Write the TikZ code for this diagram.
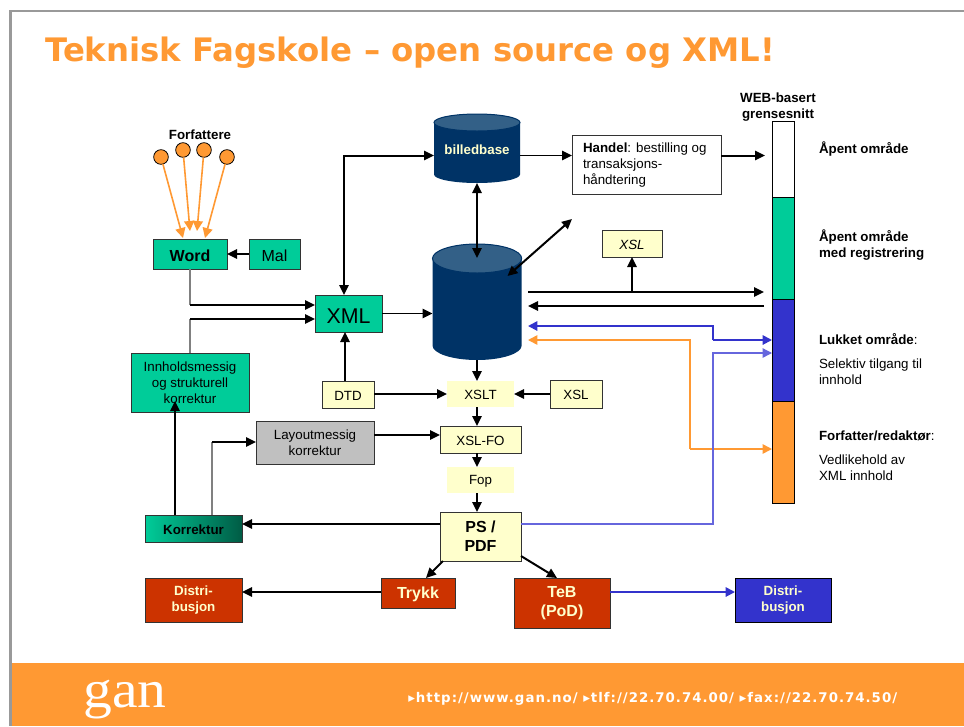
\documentclass[tikz,border=0pt]{standalone}
\usepackage{fontspec}
\setmainfont{Liberation Sans}
\newfontfamily\verd{DejaVu Sans}
\newfontfamily\logofont{Liberation Serif}
\usetikzlibrary{arrows.meta,calc}
\definecolor{orng}{HTML}{FF9933}
\definecolor{grn}{HTML}{00CC99}
\definecolor{navy}{HTML}{003366}
\definecolor{navytop}{HTML}{336087}
\definecolor{yel}{HTML}{FFFFCC}
\definecolor{rd}{HTML}{CC3300}
\definecolor{blu}{HTML}{3333CC}
\definecolor{lblu}{HTML}{6666DD}
\definecolor{framec}{HTML}{999999}
\definecolor{gry}{HTML}{C0C0C0}
\definecolor{edge}{HTML}{333333}
\newcommand{\bx}[7]{\node[#6,minimum width={(#4-#2)*0.75pt},minimum height={(#5-#3)*0.75pt}] (#1) at ({(#2+#4)/2},{(#3+#5)/2}) {#7};}
\newcommand{\cyl}[6]{%
 \fill[navy] (#1,#3) -- (#1,#4) arc[start angle=180,end angle=0,x radius={(#2-#1)/2},y radius=#5] -- (#2,#3) arc[start angle=0,end angle=-180,x radius={(#2-#1)/2},y radius=#5] -- cycle;
 \draw[#6] ({(#1+#2)/2},#3) ellipse[x radius={(#2-#1)/2},y radius=#5];}
\tikzset{
 x=0.75pt,y=-0.75pt,
 basebox/.style={inner sep=0pt,outer sep=0pt,align=center,text=black,font=\fontsize{10}{12}\selectfont,line width=0.75pt,execute at begin node={\rule{0pt}{0.9em}}},
 emptybox/.style={basebox,execute at begin node={}},
 ybox/.style={basebox,fill=yel,draw=edge},
 yplain/.style={basebox,fill=yel},
 gbox/.style={basebox,fill=grn,draw=edge},
 rbox/.style={basebox,fill=rd,draw=edge,text=yel,font=\fontsize{10}{12}\selectfont\bfseries},
 label/.style={inner sep=0pt,outer sep=0pt,anchor=west,align=left,text=black,font=\fontsize{10}{12}\selectfont},
 blabel/.style={label,font=\fontsize{10}{12}\selectfont\bfseries},
 tipb/.style={-{Triangle[length=7.5pt,width=7pt]}},
 tipd/.style={{Triangle[length=7.5pt,width=7pt]}-{Triangle[length=7.5pt,width=7pt]}},
 conn/.style={tipb,line width=1.5pt,draw=black},
 dconn/.style={tipd,line width=1.5pt,draw=black},
 thin conn/.style={tipb,line width=1.25pt,draw=black},
 grayline/.style={line width=1pt,draw=gray},
 orangearrow/.style={-{Triangle[length=7.5pt,width=7.5pt]},line width=1.2pt,draw=orng},
 colorarrow/.style={-{Triangle[length=7pt,width=7pt]}},
 dot/.style={circle,fill=orng,draw=black,line width=0.6pt,minimum size=11pt,inner sep=0pt,outer sep=0pt},
}
\begin{document}
\begin{tikzpicture}
\useasboundingbox (0,0) rectangle (964,726);
\fill[white] (0,0) rectangle (964,726);
% frame and footer
\fill[orng] (12,663) rectangle (964,726);
\fill[framec] (9.3,10) rectangle (12,726);
\fill[framec] (9.3,10) rectangle (964,12);
\node[inner sep=0pt,anchor=base west,text=orng] (title) at (45,61) {\verd\fontsize{24.25}{28}\selectfont\bfseries Teknisk Fagskole – open source og XML!};
\node[inner sep=0pt,anchor=base west,text=white,xscale=1.08] (logo) at (83,707) {\logofont\fontsize{40}{40}\selectfont gan};
\node[inner sep=0pt,anchor=base west,text=white] (foot) at (408,702) {\verd\fontsize{10}{12}\selectfont\bfseries\addfontfeature{LetterSpace=7.5}▸http://www.gan.no/ ▸tlf://22.70.74.00/ ▸fax://22.70.74.50/};
% authors
\node[inner sep=0pt,font=\fontsize{10}{12}\selectfont\bfseries] (forf) at (200,135) {Forfattere};
\node[dot] (a1) at (161,157) {};
\node[dot] (a2) at (183,150) {};
\node[dot] (a3) at (204,150) {};
\node[dot] (a4) at (227,157) {};
% boxes
\bx{word}{153}{239}{227}{269}{gbox,font=\fontsize{12}{14}\selectfont\bfseries}{Word}
\bx{mal}{249}{239}{300}{269}{gbox,font=\fontsize{12}{14}\selectfont}{Mal}
\bx{xml}{315}{295}{382}{332}{gbox,font=\fontsize{16}{19}\selectfont,execute at begin node={}}{XML}
\bx{innh}{131}{353}{249}{412}{gbox}{Innholdsmessig\\og strukturell\\korrektur}
\bx{dtd}{322}{381}{374}{408}{ybox}{DTD}
\bx{xslt}{447}{381}{514}{407}{yplain}{XSLT}
\bx{xslr}{550}{380}{602}{408}{ybox}{XSL}
\bx{xslfo}{440}{426}{521}{453}{ybox}{XSL-FO}
\bx{fop}{447}{467}{514}{493}{yplain}{Fop}
\bx{pspdf}{440}{512}{521}{561}{ybox,font=\fontsize{12}{14.5}\selectfont\bfseries}{PS /\\PDF}
\bx{layout}{256}{421}{374}{464}{basebox,fill=gry,draw=edge}{Layoutmessig\\korrektur}
\bx{korr}{145}{515}{242}{542}{basebox,draw=edge,left color=grn,middle color=grn,right color=grn!45!black,font=\fontsize{10}{12}\selectfont\bfseries}{Korrektur}
\bx{dist1}{145}{578}{242}{622}{rbox}{Distri-\\busjon}
\bx{trykk}{381}{578}{455}{608}{rbox,font=\fontsize{12}{14}\selectfont\bfseries}{Trykk}
\bx{teb}{514}{578}{610}{628}{rbox,font=\fontsize{12}{14.5}\selectfont\bfseries}{TeB\\(PoD)}
\bx{dist2}{735}{578}{831}{622}{basebox,fill=blu,draw=black,text=yel,font=\fontsize{10}{12}\selectfont\bfseries}{Distri-\\busjon}
\bx{handel}{572}{135}{721}{194}{emptybox,fill=white,draw=edge}{}
\bx{xsli}{602}{230}{662}{257}{ybox,font=\fontsize{10}{12}\selectfont\itshape}{XSL}
\node[label] (handeltxt) at (583,165) {\textbf{Handel}: bestilling og\\transaksjons-\\håndtering};
% cylinders
\cyl{434}{520}{122.5}{174.5}{8.5}{fill=navytop,draw=navy,line width=0.75pt}
\bx{bb}{434}{114}{520}{183}{basebox,text=yel,font=\fontsize{10}{12}\selectfont\bfseries}{billedbase}
\cyl{432.5}{521.7}{258.5}{345.5}{14.5}{fill=navytop,draw=navy,line width=0.75pt}
\bx{db}{432.5}{244}{521.7}{360}{emptybox}{}
% bar
\bx{bar1}{772}{121}{794}{197}{emptybox,fill=white,draw=black}{}
\bx{bar2}{772}{197}{794}{299}{emptybox,fill=grn,draw=black}{}
\bx{bar3}{772}{299}{794}{401}{emptybox,fill=blu,draw=black}{}
\bx{bar4}{772}{401}{794}{503}{emptybox,fill=orng,draw=black}{}
% right labels
\node[inner sep=0pt,align=center,font=\fontsize{10}{12}\selectfont\bfseries] (web) at (778,107) {WEB-basert\\grensesnitt};
\node[blabel] (l1) at (819,148.5) {Åpent område};
\node[blabel] (l2) at (819,245.5) {Åpent område\\med registrering};
\node[label] (l3) at (819,339.5) {\textbf{Lukket område}:};
\node[label] (l3b) at (819,371.5) {Selektiv tilgang til\\innhold};
\node[label] (l4) at (819,435.5) {\textbf{Forfatter/redaktør}:};
\node[label] (l4b) at (819,467.5) {Vedlikehold av\\XML innhold};
% connectors: authors
\draw[orangearrow] (a1) -- (183,238);
\draw[orangearrow] (a2) -- (190,231);
\draw[orangearrow] (a3) -- (197,231);
\draw[orangearrow] (a4) -- (205,238);
\draw[conn] (mal) -- (word);
% to XML
\coordinate (c1) at (190,305);
\coordinate (c2) at (190,319);
\draw[grayline] (word.south) -- (c1);
\draw[conn] (c1) -- (xml.west |- c1);
\draw[grayline] (innh.north -| c2) -- (c2);
\draw[conn] (c2) -- (xml.west |- c2);
\coordinate (c3) at (344,155.5);
\draw[dconn] (bb.west |- c3) -- (c3) -- (c3 |- xml.north);
\draw[thin conn] (xml.east) -- (db.west |- xml.east);
\draw[conn] (dtd.north -| 345,0) -- (xml.south -| 345,0);
% top row
\draw[thin conn] (bb.east |- c3) -- (handel.west |- c3);
\draw[conn] (handel.east |- c3) -- (765,155.5);
\draw[dconn] (bb.south -| 477,0) -- (477,258);
\draw[dconn] (572,219) -- (507.5,276);
% bar links
\coordinate (d1) at (528,292);
\coordinate (d2) at (528,306);
\draw[conn] (d1) -- (764,292);
\draw[conn] (xsli.south |- d1) -- (xsli.south);
\draw[conn] (764,306) -- (d2);
\draw[colorarrow,line width=1.4pt,blu] (713,340) -- (713,326) -- (528,326);
\draw[colorarrow,line width=1.4pt,blu] (713,340) -- (bar3.west |- 0,340);
\draw[colorarrow,line width=1.2pt,orng] (690,449) -- (690,340) -- (528,340);
\draw[colorarrow,line width=1.2pt,orng] (690,449) -- (bar4.west |- 0,449);
\draw[colorarrow,line width=1pt,lblu] (pspdf.east |- 0,524) -- (713,524) -- (713,353) -- (bar3.west |- 0,353);
% column
\draw[conn] (db.south -| 477,0) -- (xslt.north -| 477,0);
\draw[conn] (dtd.east |- xslt.east) -- (xslt.west);
\draw[conn] (xslr.west |- xslt.east) -- (xslt.east);
\draw[conn] (xslt.south -| 477,0) -- (xslfo.north -| 477,0);
\draw[conn] (xslfo.south -| 477,0) -- (fop.north -| 477,0);
\draw[conn] (fop.south -| 477,0) -- (pspdf.north -| 477,0);
\draw[conn] (layout.east |- 0,435) -- (xslfo.west |- 0,435);
% korrektur
\draw[conn] (pspdf.west |- 0,524) -- (korr.east |- 0,524);
\draw[conn] (korr.north -| 175,0) -- (175,401);
\coordinate (c4) at (212,442);
\draw[grayline] (korr.north -| c4) -- (c4);
\draw[conn] (c4) -- (layout.west |- c4);
% bottom
\draw[conn] (443,561) -- (426,578);
\draw[conn] (pspdf.east |- 0,556) -- (557,578);
\draw[thin conn] (trykk.west |- 0,592) -- (dist1.east |- 0,592);
\draw[colorarrow,line width=1.4pt,blu] (teb.east |- 0,592) -- (dist2.west |- 0,592);
\end{tikzpicture}
\end{document}
